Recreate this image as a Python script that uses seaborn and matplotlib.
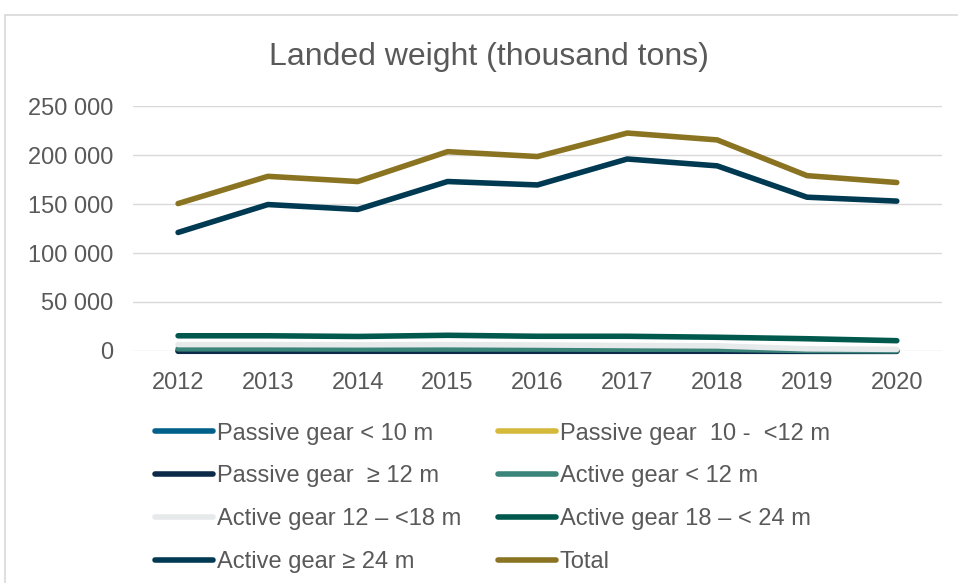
import numpy as np
import pandas as pd
import seaborn as sns
import matplotlib.pyplot as plt
from matplotlib.lines import Line2D

# data
years = [2012, 2013, 2014, 2015, 2016, 2017, 2018, 2019, 2020]
passive_lt10 = [300, 300, 300, 300, 300, 300, 300, 200, 200]
passive_10_12 = [200, 200, 200, 200, 200, 200, 200, 100, 100]
passive_ge12 = [-300, -300, -300, -300, -300, -300, -300, -400, -400]
active_lt12 = [2200, 2200, 2000, 2000, 2000, 1800, 1800, 500, 200]
active_12_18 = [6500, 6500, 6300, 6500, 6100, 5600, 5200, 2200, 1600]
active_18_24 = [15500, 15500, 14800, 16000, 15000, 15000, 14000, 12500, 10500]
active_ge24 = [121000, 149500, 144500, 173000, 169500, 196000, 189000, 157000, 153000]
total = [150500, 178300, 173000, 203500, 198500, 222500, 215500, 179000, 172000]

labels = ["Passive gear < 10 m", "Passive gear  10 -  <12 m", "Passive gear  \u2265 12 m",
          "Active gear < 12 m", "Active gear 12 \u2013 <18 m", "Active gear 18 \u2013 < 24 m",
          "Active gear \u2265 24 m", "Total"]
series = [passive_lt10, passive_10_12, passive_ge12, active_lt12,
          active_12_18, active_18_24, active_ge24, total]
colors = ["#00608a", "#d4b93a", "#0b2a4a", "#3b8479",
          "#e6eaea", "#00594c", "#003a52", "#8b7421"]

df = pd.concat([pd.DataFrame({"Year": years, "Weight": s, "Group": lab})
                for lab, s in zip(labels, series)], ignore_index=True)

sns.set_style("white")
plt.rcParams['font.family'] = ['Liberation Sans', 'DejaVu Sans']

fig = plt.figure(figsize=(9.58, 5.83), dpi=100)
ax = fig.add_axes([0.139, 0.398, 0.844, 0.42])

sns.lineplot(data=df, x="Year", y="Weight", hue="Group", hue_order=labels,
             palette=colors, linewidth=4.0, ax=ax, legend=False,
             solid_capstyle="round")
for ln in ax.lines:
    ln.set_clip_on(False)

ax.set_xlim(2011.5, 2020.5)
ax.set_ylim(0, 250000)
ax.set_yticks(np.arange(0, 250001, 50000))
ax.set_yticklabels([f"{v:,}".replace(",", " ") for v in range(0, 250001, 50000)])
ax.set_xticks(years)
ax.set_xticklabels([str(y) for y in years])
ax.yaxis.grid(True, color="#d9d9d9", linewidth=1)
ax.set_axisbelow(True)
for sp in ax.spines.values():
    sp.set_visible(False)
ax.tick_params(axis="both", length=0, labelsize=17, colors="#595959")
ax.tick_params(axis="x", pad=15)
ax.tick_params(axis="y", pad=14)
ax.set_xlabel("")
ax.set_ylabel("")

fig.text(0.510, 0.902, "Landed weight (thousand tons)", ha="center", va="center",
         fontsize=23, color="#595959")

handles = [Line2D([], [], color=c, linewidth=4.0, solid_capstyle="round") for c in colors]
order = [0, 2, 4, 6, 1, 3, 5, 7]
fig.legend([handles[i] for i in order], [labels[i] for i in order],
           ncol=2, loc="upper left", bbox_to_anchor=(0.162, 0.275),
           frameon=False, fontsize=17, labelcolor="#595959",
           handlelength=2.45, handletextpad=0.17, columnspacing=1.55,
           labelspacing=0.88, borderaxespad=0, borderpad=0)

# chart border (left and top edges visible)
fig.add_artist(Line2D([5 / 958, 5 / 958], [0, 1 - 15 / 583], transform=fig.transFigure,
                      color="#d9d9d9", linewidth=1.2))
fig.add_artist(Line2D([5 / 958, 1], [1 - 15 / 583, 1 - 15 / 583], transform=fig.transFigure,
                      color="#d9d9d9", linewidth=1.2))

fig.savefig("out.png", dpi=100)
